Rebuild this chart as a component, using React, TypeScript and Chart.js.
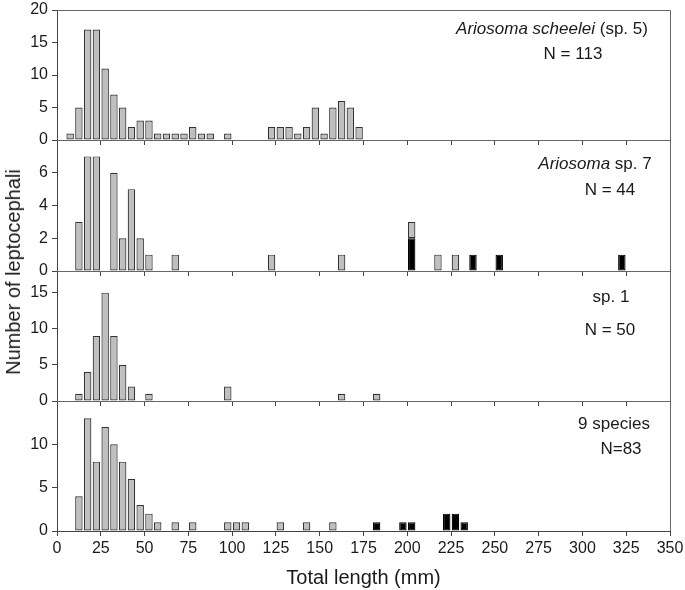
import React, { useEffect, useRef } from 'react';
import { Chart, registerables } from 'chart.js';

Chart.register(...registerables);

// ---------- data (bin midpoints in mm, counts) ----------
// Ariosoma scheelei (sp. 5), N = 113
const sp5Length = [7.5, 12.5, 17.5, 22.5, 27.5, 32.5, 37.5, 42.5, 47.5, 52.5, 57.5, 62.5, 67.5, 72.5, 77.5, 82.5, 87.5, 97.5, 122.5, 127.5, 132.5, 137.5, 142.5, 147.5, 152.5, 157.5, 162.5, 167.5, 172.5];
const sp5Count = [1, 5, 17, 17, 11, 7, 5, 2, 3, 3, 1, 1, 1, 1, 2, 1, 1, 1, 2, 2, 2, 1, 2, 5, 1, 5, 6, 5, 2];

// Ariosoma sp. 7, N = 44
const sp7Length = [12.5, 17.5, 22.5, 32.5, 37.5, 42.5, 47.5, 52.5, 67.5, 122.5, 162.5, 202.5, 217.5, 227.5];
const sp7Count = [3, 7, 7, 6, 2, 5, 2, 1, 1, 1, 1, 1, 1, 1];
const sp7BlackLength = [202.5, 237.5, 252.5, 322.5];
const sp7BlackCount = [2, 1, 1, 1];

// sp. 1, N = 50
const sp1Length = [12.5, 17.5, 22.5, 27.5, 32.5, 37.5, 42.5, 52.5, 97.5, 162.5, 182.5];
const sp1Count = [1, 4, 9, 15, 9, 5, 2, 1, 2, 1, 1];

// 9 species, N = 83
const nineLength = [12.5, 17.5, 22.5, 27.5, 32.5, 37.5, 42.5, 47.5, 52.5, 57.5, 67.5, 77.5, 97.5, 102.5, 107.5, 127.5, 142.5, 157.5];
const nineCount = [4, 13, 8, 12, 10, 8, 6, 3, 2, 1, 1, 1, 1, 1, 1, 1, 1, 1];
const nineBlackLength = [182.5, 197.5, 202.5, 222.5, 227.5, 232.5];
const nineBlackCount = [1, 1, 1, 2, 2, 1];

// axes
const xMin = 0;
const xMax = 350;
const xStep = 25;
const panelYMax = [20, 8, 18, 15];
const panelYStep = [5, 2, 5, 5];
const panelYLabelMax = [20, 6, 15, 10];

// ---------- layout / style ----------
const FONT = '"Liberation Sans", Arial, Helvetica, sans-serif';
const GRAY = '#bfbfbf';
const EDGE = '#333333';
const AXIS = '#444444';
const TEXT = '#1a1a1a';
const W = 685;
const H = 590;
const PLOT_LEFT = 57;
const PLOT_RIGHT = 670;
const PANEL_TOP = [10, 140, 271, 401];
const PANEL_BOTTOM = [140, 271, 401, 531];

const pairs = (xs: number[], ys: number[]) => xs.map((x, k) => ({ x, y: ys[k] }));

const panels = [
  { gray: pairs(sp5Length, sp5Count), black: null as null | { x: number; y: number }[] },
  { gray: pairs(sp7Length, sp7Count), black: pairs(sp7BlackLength, sp7BlackCount) },
  { gray: pairs(sp1Length, sp1Count), black: null },
  { gray: pairs(nineLength, nineCount), black: pairs(nineBlackLength, nineBlackCount) },
];

const framePlugin = {
  id: 'frame',
  beforeDatasetsDraw(chart: any) {
    const { ctx, chartArea } = chart;
    const { left, right, top, bottom } = chartArea;
    ctx.save();
    ctx.strokeStyle = '#666666';
    ctx.lineWidth = 1;
    ctx.beginPath();
    ctx.moveTo(left, Math.round(top) + 0.5);
    ctx.lineTo(Math.round(right) + 0.5, Math.round(top) + 0.5);
    ctx.lineTo(Math.round(right) + 0.5, bottom);
    ctx.stroke();
    ctx.restore();
  },
};

function geometry(i: number) {
  const last = i === 3;
  const bottomSpace = last ? H - PANEL_BOTTOM[3] : 8;
  const canvasTop = PANEL_TOP[i] - 10;
  const canvasH = PANEL_BOTTOM[i] - canvasTop + bottomSpace;
  return { last, bottomSpace, canvasTop, canvasH };
}

export default function App() {
  const refs = [useRef<HTMLCanvasElement>(null), useRef<HTMLCanvasElement>(null), useRef<HTMLCanvasElement>(null), useRef<HTMLCanvasElement>(null)];

  useEffect(() => {
    const charts: Chart[] = [];
    panels.forEach((p, i) => {
      const canvas = refs[i].current;
      if (!canvas) return;
      const { last, bottomSpace } = geometry(i);
      const datasets: any[] = [];
      if (p.black) {
        datasets.push({ label: 'black', data: p.black, backgroundColor: '#000000', borderColor: '#000000' });
      }
      datasets.push({ label: 'gray', data: p.gray, backgroundColor: GRAY, borderColor: EDGE });
      const labelMax = panelYLabelMax[i];
      const chart = new Chart(canvas, {
        type: 'bar',
        data: { datasets },
        plugins: [framePlugin],
        options: {
          animation: false,
          responsive: false,
          maintainAspectRatio: false,
          events: [],
          layout: { padding: { top: 10, right: W - PLOT_RIGHT, left: 0, bottom: 0 } },
          plugins: { legend: { display: false }, tooltip: { enabled: false }, title: { display: false } },
          datasets: {
            bar: { barPercentage: 0.85, categoryPercentage: 1, borderWidth: 1.2, borderSkipped: false },
          },
          scales: {
            x: {
              type: 'linear',
              min: xMin,
              max: xMax,
              offset: false,
              stacked: true,
              grid: { offset: false, drawOnChartArea: false, drawTicks: true, tickLength: 5, color: AXIS },
              border: { display: true, color: AXIS, width: 1 },
              ticks: {
                display: last,
                stepSize: xStep,
                autoSkip: false,
                maxRotation: 0,
                padding: 3,
                color: TEXT,
                font: { family: FONT, size: 16 },
              },
              title: {
                display: last,
                text: 'Total length (mm)',
                color: TEXT,
                font: { family: FONT, size: 20 },
                padding: { top: 0, bottom: 0 },
              },
              afterFit: (s: any) => {
                s.height = bottomSpace;
                s.paddingLeft = 0;
                s.paddingRight = 0;
              },
            },
            y: {
              type: 'linear',
              min: 0,
              max: panelYMax[i],
              stacked: true,
              grid: { drawOnChartArea: false, drawTicks: true, tickLength: 5, color: AXIS },
              border: { display: true, color: AXIS, width: 1 },
              ticks: {
                stepSize: panelYStep[i],
                includeBounds: false,
                padding: 4,
                color: TEXT,
                font: { family: FONT, size: 16 },
                callback: (v: any) => (Number(v) > labelMax ? '' : String(v)),
              },
              afterFit: (s: any) => {
                s.width = PLOT_LEFT;
                s.paddingTop = 0;
                s.paddingBottom = 0;
              },
            },
          },
        } as any,
      });
      charts.push(chart);
    });
    return () => charts.forEach((c) => c.destroy());
  }, []);

  const textBase: React.CSSProperties = {
    position: 'absolute',
    transform: 'translate(-50%, -50%)',
    whiteSpace: 'nowrap',
    fontFamily: FONT,
    fontSize: 17,
    color: TEXT,
    lineHeight: 1,
  };

  const label = (x: number, y: number, content: React.ReactNode, key: string) => (
    <div key={key} style={{ ...textBase, left: x, top: y }}>
      {content}
    </div>
  );

  return (
    <div style={{ position: 'absolute', left: 0, top: 0, width: W, height: H, background: '#ffffff', overflow: 'hidden' }}>
      {panels.map((_, i) => {
        const g = geometry(i);
        return (
          <canvas
            key={i}
            ref={refs[i]}
            width={W}
            height={g.canvasH}
            style={{ position: 'absolute', left: 0, top: g.canvasTop, width: W, height: g.canvasH }}
          />
        );
      })}
      {label(552, 28, <><i>Ariosoma scheelei</i> (sp. 5)</>, 'a1')}
      {label(573, 53, 'N = 113', 'a2')}
      {label(595, 163, <><i>Ariosoma</i> sp. 7</>, 'b1')}
      {label(610, 189, 'N = 44', 'b2')}
      {label(611, 296, 'sp. 1', 'c1')}
      {label(610, 329, 'N = 50', 'c2')}
      {label(614, 423, '9 species', 'd1')}
      {label(621, 448, 'N=83', 'd2')}
      <div
        style={{
          ...textBase,
          left: 13,
          top: 272,
          fontSize: 20,
          transform: 'translate(-50%, -50%) rotate(-90deg)',
        }}
      >
        Number of leptocephali
      </div>
    </div>
  );
}
